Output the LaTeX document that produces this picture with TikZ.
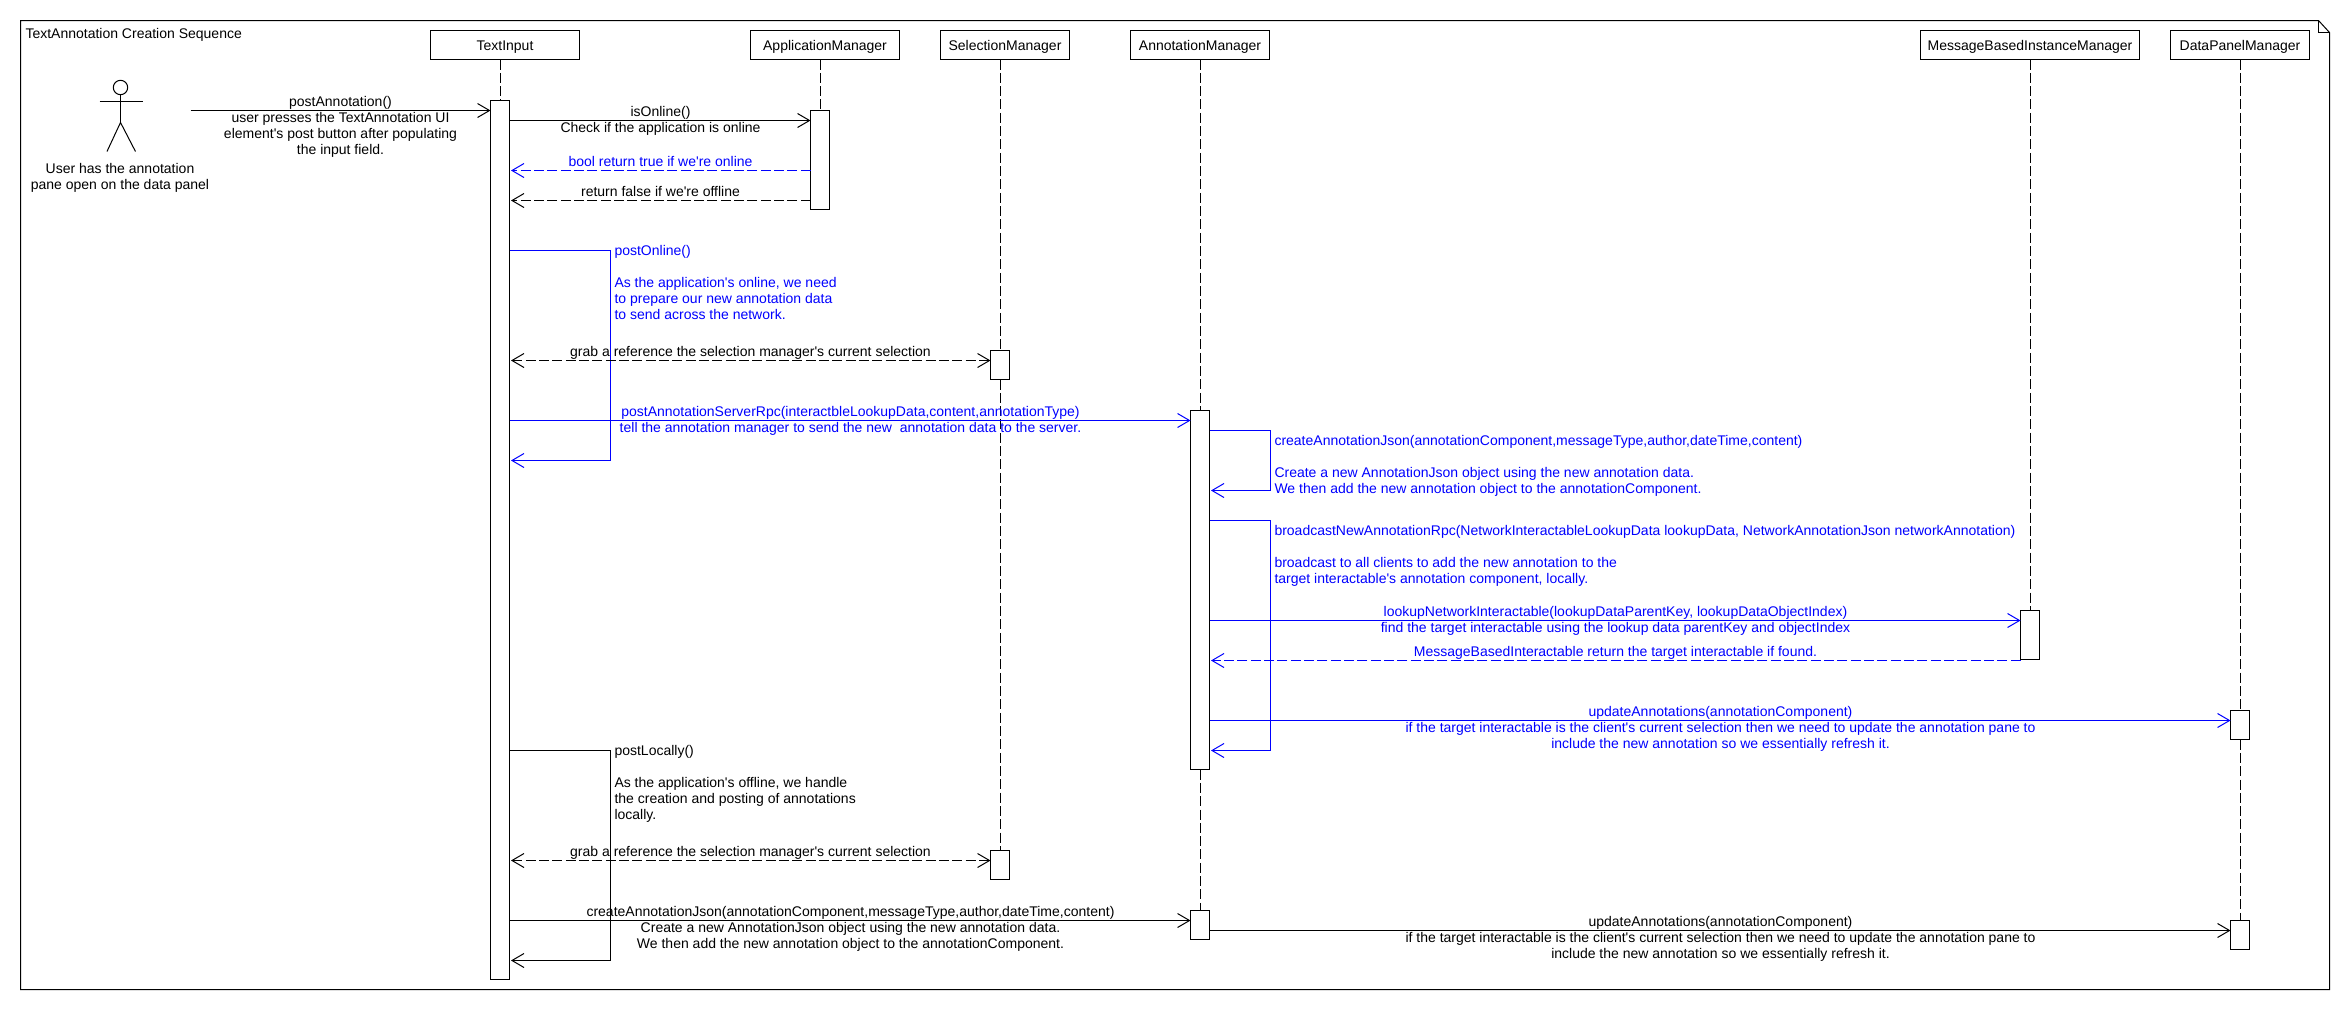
\documentclass[tikz,border=0pt]{standalone}
\usepackage{fontspec}
\usetikzlibrary{arrows.meta}
\newfontfamily\umlfont{Liberation Sans}
\newcommand{\umlsize}{\umlfont\fontsize{14}{16}\selectfont}
\tikzset{
  linew/.style={line width=1pt},
  objbox/.style={draw=black,linew,fill=white,inner sep=0pt,outer sep=0pt,anchor=north west,minimum width=149pt,minimum height=29pt,text height=10pt,text depth=0pt,font=\umlsize},
  actbox/.style={draw=black,linew,fill=white,inner sep=0pt,outer sep=0pt,anchor=north west,minimum width=19pt},
  life/.style={draw=black,linew,dash pattern=on 10pt off 3.33pt},
  msg/.style={linew,-{Straight Barb[length=12pt,width=14pt,line width=1pt]}},
  ret/.style={msg,dash pattern=on 10pt off 3.33pt},
  both/.style={linew,dash pattern=on 10pt off 3.33pt,{Straight Barb[length=12pt,width=14pt,line width=1pt]}-{Straight Barb[length=12pt,width=14pt,line width=1pt]}},
  toleft/.style={shorten >=1.5pt},
  txt/.style={inner sep=0pt,outer sep=0pt,font=\umlsize,yshift=11.2pt},
  ctxt/.style={txt,anchor=north,align=center},
  ltxt/.style={txt,anchor=north west,align=left},
}
\begin{document}
\begin{tikzpicture}[x=1pt,y=-1pt]
\useasboundingbox (0,0) rectangle (2350,1010);
\fill[white] (0,0) rectangle (2350,1010);
\begin{scope}[shift={(0.5,0.5)}]
% frame
\draw[linew,line join=miter] (20,20) -- (2318,20) -- (2329,32) -- (2329,989) -- (20,989) -- cycle;
\draw[linew] (2318,20) -- (2318,32) -- (2329,32);
\node[ltxt] (title) at (25,38) {\strut TextAnnotation Creation Sequence};

% object boxes
\node[objbox] (ti) at (430,30) {TextInput};
\node[objbox] (am) at (750,30) {ApplicationManager};
\node[objbox,minimum width=129pt] (sm) at (940,30) {SelectionManager};
\node[objbox,minimum width=139pt] (an) at (1130,30) {AnnotationManager};
\node[objbox,minimum width=219pt] (mb) at (1920,30) {MessageBasedInstanceManager};
\node[objbox,minimum width=139pt] (dp) at (2170,30) {DataPanelManager};

% activations
\node[actbox,minimum height=879pt] (tia) at (490,100) {};
\node[actbox,minimum height=99pt] (ama) at (810,110) {};
\node[actbox,minimum height=29pt] (sma) at (990,350) {};
\node[actbox,minimum height=29pt] (smb) at (990,850) {};
\node[actbox,minimum height=359pt] (ana) at (1190,410) {};
\node[actbox,minimum height=29pt] (anb) at (1190,910) {};
\node[actbox,minimum height=49pt] (mba) at (2020,610) {};
\node[actbox,minimum height=29pt] (dpa) at (2230,710) {};
\node[actbox,minimum height=29pt] (dpb) at (2230,920) {};

% lifelines
\draw[life] (ti.south -| tia.north) -- (tia.north);
\draw[life] (am.south -| ama.north) -- (ama.north);
\draw[life] (sm.south -| sma.north) -- (sma.north);
\draw[life] (sma.south) -- (smb.north);
\draw[life] (an.south -| ana.north) -- (ana.north);
\draw[life] (ana.south) -- (anb.north);
\draw[life] (mb.south -| mba.north) -- (mba.north);
\draw[life] (dp.south -| dpa.north) -- (dpa.north);
\draw[life] (dpa.south) -- (dpb.north);

% actor
\node[draw=black,linew,circle,inner sep=0pt,minimum size=14.4pt,outer sep=0pt] (head) at (120,87) {};
\coordinate (hip) at (120,122);
\coordinate (armL) at (99,101);
\coordinate (armR) at (142,101);
\coordinate (footL) at (106.5,151);
\coordinate (footR) at (135,151);
\draw[linew] (head.south) -- (hip);
\draw[linew] (armL) -- (armR);
\draw[linew] (footL) -- (hip) -- (footR);
\node[ctxt] (actorlabel) at (119.5,173) {\strut User has the annotation\\pane open on the data panel};

% black and blue messages
\coordinate (start) at (190,110);
\draw[msg] (start) -- (tia.west |- start);
\node[ctxt] (m1) at (340,106) {\strut postAnnotation()\\user presses the TextAnnotation UI\\element's post button after populating\\the input field.};

\draw[msg] (tia.east |- 0,120) -- (ama.west |- 0,120);
\node[ctxt] (m2) at (660,116) {\strut isOnline()\\Check if the application is online};

\draw[ret,blue,toleft] (ama.west |- 0,170) -- (tia.east |- 0,170);
\node[ctxt,text=blue] (m3) at (660,166) {\strut bool return true if we're online};

\draw[ret,toleft] (ama.west |- 0,200) -- (tia.east |- 0,200);
\node[ctxt] (m4) at (660,196) {\strut return false if we're offline};

\draw[msg,blue,toleft] (tia.east |- 0,250) -- (610,250) -- (610,460) -- (tia.east |- 0,460);
\node[ltxt,text=blue] (m5) at (614,255) {\strut postOnline()\\[16pt]As the application's online, we need\\to prepare our new annotation data\\to send across the network.};

\draw[both,shorten <=1.5pt] (tia.east |- 0,360) -- (sma.west |- 0,360);
\node[ctxt] (m6) at (750,356) {\strut grab a reference the selection manager's current selection};

\draw[msg,blue] (tia.east |- 0,420) -- (ana.west |- 0,420);
\node[ctxt,text=blue] (m7) at (850,416) {\strut postAnnotationServerRpc(interactbleLookupData,content,annotationType)\\tell the annotation manager to send the new\ \ annotation data to the server.};

\draw[msg,blue,toleft] (ana.east |- 0,430) -- (1270,430) -- (1270,490) -- (ana.east |- 0,490);
\node[ltxt,text=blue] (m8) at (1274,445) {\strut createAnnotationJson(annotationComponent,messageType,author,dateTime,content)\\[16pt]Create a new AnnotationJson object using the new annotation data.\\We then add the new annotation object to the annotationComponent.};

\draw[msg,blue,toleft] (ana.east |- 0,520) -- (1270,520) -- (1270,750) -- (ana.east |- 0,750);
\node[ltxt,text=blue] (m9) at (1274,535) {\strut broadcastNewAnnotationRpc(NetworkInteractableLookupData lookupData, NetworkAnnotationJson networkAnnotation)\\[16pt]broadcast to all clients to add the new annotation to the\\target interactable's annotation component, locally.};

\draw[msg,blue] (ana.east |- 0,620) -- (mba.west |- 0,620);
\node[ctxt,text=blue] (m10) at (1615,616) {\strut lookupNetworkInteractable(lookupDataParentKey, lookupDataObjectIndex)\\find the target interactable using the lookup data parentKey and objectIndex};

\draw[ret,blue,toleft] (mba.west |- 0,660) -- (ana.east |- 0,660);
\node[ctxt,text=blue] (m11) at (1615,656) {\strut MessageBasedInteractable return the target interactable if found.};

\draw[msg,blue] (ana.east |- 0,720) -- (dpa.west |- 0,720);
\node[ctxt,text=blue] (m12) at (1720,716) {\strut updateAnnotations(annotationComponent)\\if the target interactable is the client's current selection then we need to update the annotation pane to\\include the new annotation so we essentially refresh it.};

\draw[msg,toleft] (tia.east |- 0,750) -- (610,750) -- (610,960) -- (tia.east |- 0,960);
\node[ltxt] (m13) at (614,755) {\strut postLocally()\\[16pt]As the application's offline, we handle\\the creation and posting of annotations\\locally.};

\draw[both,shorten <=1.5pt] (tia.east |- 0,860) -- (smb.west |- 0,860);
\node[ctxt] (m14) at (750,856) {\strut grab a reference the selection manager's current selection};

\draw[msg] (tia.east |- 0,920) -- (anb.west |- 0,920);
\node[ctxt] (m15) at (850,916) {\strut createAnnotationJson(annotationComponent,messageType,author,dateTime,content)\\Create a new AnnotationJson object using the new annotation data.\\We then add the new annotation object to the annotationComponent.};

\draw[msg] (anb.east |- 0,930) -- (dpb.west |- 0,930);
\node[ctxt] (m16) at (1720,926) {\strut updateAnnotations(annotationComponent)\\if the target interactable is the client's current selection then we need to update the annotation pane to\\include the new annotation so we essentially refresh it.};
\end{scope}
\end{tikzpicture}
\end{document}
